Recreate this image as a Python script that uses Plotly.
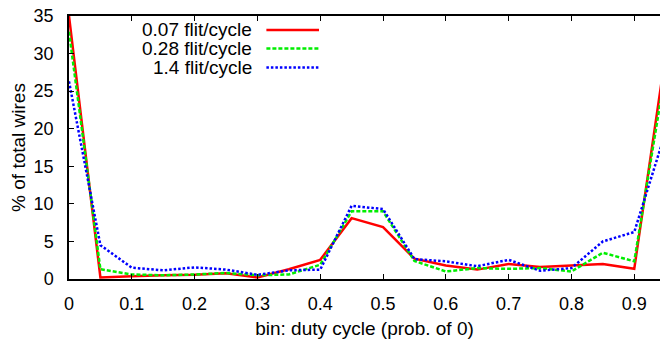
import plotly.graph_objects as go

bins = [0.0, 0.05, 0.1, 0.15, 0.2, 0.25, 0.3, 0.35, 0.4, 0.45, 0.5,
        0.55, 0.6, 0.65, 0.7, 0.75, 0.8, 0.85, 0.9, 0.95]
series_names = ["0.07 flit/cycle", "0.28 flit/cycle", "1.4 flit/cycle"]
low = [35.0, 0.2, 0.35, 0.5, 0.55, 0.75, 0.2, 1.3, 2.55, 8.1, 6.9,
       2.7, 1.8, 1.25, 2.0, 1.6, 1.8, 2.0, 1.35, 30.0]
mid = [32.9, 1.3, 0.6, 0.5, 0.6, 0.8, 0.5, 0.6, 1.9, 9.0, 9.0,
       2.4, 1.0, 1.45, 1.35, 1.45, 1.0, 3.5, 2.35, 27.8]
high = [26.3, 4.5, 1.5, 1.15, 1.55, 1.25, 0.55, 1.15, 1.25, 9.75, 9.3,
        2.65, 2.35, 1.7, 2.55, 1.1, 1.45, 5.0, 6.25, 19.6]
x_ticks = [0, 0.1, 0.2, 0.3, 0.4, 0.5, 0.6, 0.7, 0.8, 0.9]
y_ticks = [0, 5, 10, 15, 20, 25, 30, 35]

colors = ["#ff0000", "#00ee00", "#0000ff"]
dashes = ["solid", "4px,2px", "2.5px,2px"]
values = [low, mid, high]

FONT = "Liberation Sans, Arial, sans-serif"

fig = go.Figure()
for name, vals, c, d in zip(series_names, values, colors, dashes):
    fig.add_trace(go.Scatter(x=bins, y=vals, mode="lines", name=name,
                             line=dict(color=c, width=2.5, dash=d),
                             showlegend=False, cliponaxis=True))

# gnuplot-style legend (text on the left, sample on the right)
leg_y = [0.947, 0.876, 0.804]
for name, c, d, yy in zip(series_names, colors, dashes, leg_y):
    fig.add_annotation(xref="paper", yref="paper", x=0.313, y=yy,
                       text=name, showarrow=False, xanchor="right",
                       yanchor="middle", font=dict(size=19, color="black", family=FONT))
    fig.add_shape(type="line", xref="paper", yref="paper",
                  x0=0.334, x1=0.423, y0=yy, y1=yy,
                  line=dict(color=c, width=2.5, dash=d))

fig.update_layout(
    width=660, height=343,
    margin=dict(l=69, r=0, t=16, b=64),
    paper_bgcolor="white", plot_bgcolor="white",
    font=dict(family=FONT, size=18, color="black"),
    showlegend=False,
)
fig.update_xaxes(
    range=[0, 0.941], tickvals=x_ticks, ticktext=[str(v) for v in x_ticks],
    showgrid=False, zeroline=False, showline=True, linecolor="black", linewidth=1.5,
    ticks="inside", ticklen=5, tickcolor="black", tickwidth=1,
    mirror="ticks", ticklabelstandoff=8, tickfont=dict(size=18),
    title=dict(text="bin: duty cycle (prob. of 0)", standoff=8, font=dict(size=19)),
)
fig.update_yaxes(
    range=[0, 35], tickvals=y_ticks,
    showgrid=False, zeroline=False, showline=True, linecolor="black", linewidth=1.5,
    ticks="inside", ticklen=5, tickcolor="black", tickwidth=1,
    ticklabelstandoff=10, tickfont=dict(size=18),
    title=dict(text="% of total wires", standoff=3, font=dict(size=19)),
)
fig.write_html("out.html")
